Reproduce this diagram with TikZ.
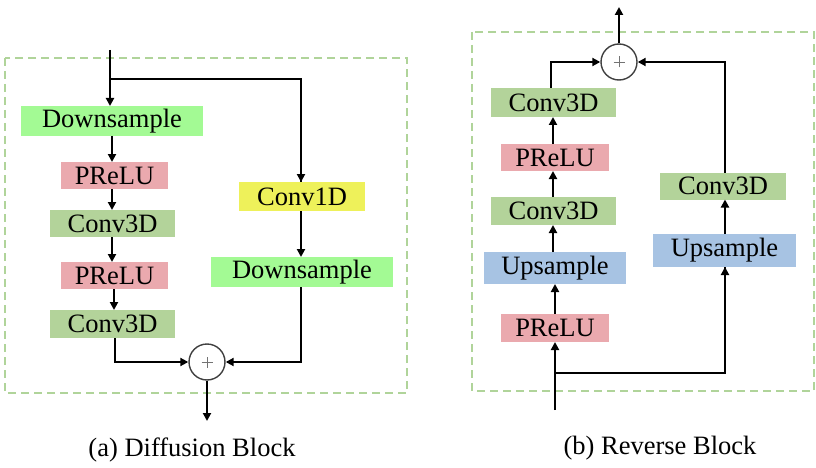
\documentclass[tikz,border=0pt]{standalone}
\usepackage{fontspec}
\setmainfont{Liberation Serif}
\usetikzlibrary{arrows.meta,calc}
\definecolor{dsgreen}{RGB}{163,250,148}
\definecolor{convgreen}{RGB}{179,211,154}
\definecolor{prelupink}{RGB}{234,169,174}
\definecolor{convyellow}{RGB}{238,241,90}
\definecolor{upblue}{RGB}{167,195,227}
\definecolor{dashgreen}{RGB}{176,212,154}
\begin{document}
\begin{tikzpicture}[x=1pt,y=-1pt,
  blk/.style={inner sep=0pt, outer sep=0pt, font=\fontsize{26.5}{30}\selectfont},
  ds/.style={blk, fill=dsgreen, minimum width=182pt, minimum height=30pt},
  cv/.style={blk, fill=convgreen, minimum width=125pt, minimum height=28pt},
  pr/.style={blk, fill=prelupink, minimum width=107pt, minimum height=27pt},
  cy/.style={blk, fill=convyellow, minimum width=126pt, minimum height=29pt},
  up/.style={blk, fill=upblue, minimum width=142pt, minimum height=32pt},
  addnode/.style={circle, draw=black!75, line width=1.4pt, minimum size=36pt, inner sep=0pt, fill=white,
    path picture={\draw[black!55, line width=0.8pt]
      ([xshift=-5.5pt]path picture bounding box.center) -- ([xshift=5.5pt]path picture bounding box.center)
      ([yshift=-5.5pt]path picture bounding box.center) -- ([yshift=5.5pt]path picture bounding box.center);}},
  arr/.style={line width=2pt, -{Triangle[length=8pt,width=8pt]}},
  ln/.style={line width=2pt},
  dashframe/.style={draw=dashgreen, line width=2pt, dash pattern=on 8pt off 5pt},
  captxt/.style={font=\fontsize{26.5}{30}\selectfont, inner sep=0pt}
]
\useasboundingbox (0,0) rectangle (816,468);

% ---------- (a) Diffusion Block ----------
\draw[dashframe] (5,58) rectangle (407,393);
\node[ds] (ds1) at (112,121) {Downsample};
\node[pr] (pr1) at (114.5,175.5) {PReLU};
\node[cv, minimum height=27pt] (cv1) at (112.5,223.5) {Conv3D};
\node[pr] (pr2) at (114.5,275.5) {PReLU};
\node[cv] (cv2) at (112.5,324) {Conv3D};
\node[cy] (c1d) at (302,196.5) {Conv1D};
\node[ds] (ds2) at (302,272) {Downsample};
\node[addnode] (addA) at (207,362) {};
\coordinate (inA) at (110,50);
\coordinate (brA) at (110,79);
\coordinate (outA) at (207,421);

\draw[arr] (inA) -- (inA |- ds1.north);
\draw[ln] (brA) -| ([xshift=-1pt]c1d.north);
\draw[arr] ([xshift=-1pt]c1d.north |- brA) -- ([xshift=-1pt]c1d.north);
\draw[arr] (ds1.south) -- (ds1.south |- pr1.north);
\draw[arr] (ds1.south |- pr1.south) -- (ds1.south |- cv1.north);
\draw[arr] (ds1.south |- cv1.south) -- (ds1.south |- pr2.north);
\draw[arr] ([xshift=1.5pt]cv2.north |- pr2.south) -- ([xshift=1.5pt]cv2.north);
\draw[arr] ([xshift=2.5pt]cv2.south) |- (addA.west);
\draw[arr] ([xshift=-1pt]c1d.south) -- ([xshift=-1pt]ds2.north);
\draw[arr] ([xshift=-1pt]ds2.south) |- (addA.east);
\draw[arr] (addA.south) -- (outA);
\node[captxt] (capA) at (192,450) {(a) Diffusion Block};

% ---------- (b) Reverse Block ----------
\draw[dashframe] (472,32) rectangle (814,391);
\node[addnode] (addB) at (619,62) {};
\node[cv, minimum height=29pt] (cvR1) at (553.5,102.5) {Conv3D};
\node[pr, minimum width=108pt] (prR1) at (555,157.5) {PReLU};
\node[cv] (cvR2) at (553.5,211) {Conv3D};
\node[up] (upL) at (555,268) {Upsample};
\node[pr, minimum width=108pt, minimum height=28pt] (prR2) at (555,328) {PReLU};
\node[up, minimum width=143pt, minimum height=33pt] (upR) at (724.5,250.5) {Upsample};
\node[cv, minimum width=126pt, minimum height=27pt] (cvR3) at (723,186) {Conv3D};
\coordinate (inB) at (555,410);
\coordinate (brB) at (555,373);
\coordinate (outB) at (619,7);

\draw[arr] (inB) -- (prR2.south);
\draw[ln] (brB) -| ([xshift=0.5pt]upR.south);
\draw[arr] ([xshift=0.5pt]upR.south |- brB) -- ([xshift=0.5pt]upR.south);
\draw[arr] (prR2.north) -- (upL.south);
\draw[arr] ([xshift=-2pt]upL.north) -- ([xshift=-2pt]upL.north |- cvR2.south);
\draw[arr] ([xshift=-2pt]prR1.south |- cvR2.north) -- ([xshift=-2pt]prR1.south);
\draw[arr] ([xshift=-2pt]prR1.north) -- ([xshift=-2pt]prR1.north |- cvR1.south);
\draw[arr] ([xshift=-2.5pt]cvR1.north) |- (addB.west);
\draw[arr] ([xshift=0.5pt]upR.north) -- ([xshift=0.5pt]upR.north |- cvR3.south);
\draw[arr] ([xshift=2pt]cvR3.north) |- (addB.east);
\draw[arr] (addB.north) -- (outB);
\node[captxt] (capB) at (660,448) {(b) Reverse Block};
\end{tikzpicture}
\end{document}
